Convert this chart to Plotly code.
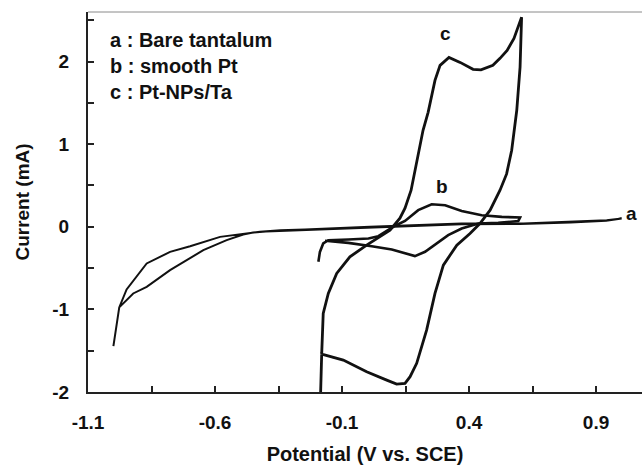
import plotly.graph_objects as go

# ---- data ----
# curve a : Bare tantalum
a_v = [-1.000, -0.977, -0.948, -0.935, -0.869, -0.777, -0.698, -0.580, -0.515, -0.423, -0.343,
       -0.246, 0.010, 0.371, 0.614, 0.811, 0.942, 1.001,
       0.940, 0.800, 0.600, 0.370, 0.000, -0.250, -0.400, -0.450, -0.489, -0.554, -0.646,
       -0.777, -0.869, -0.922, -0.977]
a_i = [-1.444, -0.976, -0.758, -0.706, -0.444, -0.304, -0.235, -0.122, -0.093, -0.061, -0.041,
       -0.033, 0.000, 0.040, 0.040, 0.059, 0.080, 0.100,
       0.072, 0.052, 0.034, 0.030, -0.008, -0.038, -0.058, -0.070, -0.093, -0.162, -0.283,
       -0.525, -0.727, -0.807, -0.976]

# curve b : smooth Pt
b_v = [-0.193, -0.187, -0.174, -0.154, -0.075, 0.004, 0.043, 0.069, 0.109, 0.148, 0.200,
       0.253, 0.306, 0.371, 0.450, 0.529, 0.601,
       0.594, 0.515, 0.437, 0.371, 0.318, 0.266, 0.227, 0.187, 0.148, 0.096, 0.017,
       -0.075, -0.167]
b_i = [-0.424, -0.304, -0.202, -0.162, -0.154, -0.141, -0.114, -0.062, 0.013, 0.071, 0.201,
       0.273, 0.261, 0.192, 0.140, 0.120, 0.112,
       0.071, 0.047, 0.040, -0.021, -0.102, -0.222, -0.303, -0.355, -0.323, -0.274, -0.235,
       -0.195, -0.170]

# curve c : Pt-NPs/Ta
c_v = [-0.180, -0.174, -0.154, -0.121, -0.095, -0.069, -0.003, 0.050, 0.089, 0.128, 0.148,
       0.172, 0.195, 0.219, 0.239, 0.254, 0.266, 0.286, 0.321, 0.365, 0.416, 0.447, 0.494,
       0.522, 0.550, 0.577, 0.607,
       0.601, 0.593, 0.588, 0.568, 0.548, 0.522, 0.483, 0.443, 0.404, 0.352, 0.299, 0.266,
       0.233, 0.194, 0.168, 0.148, 0.115, 0.076, -0.003, -0.095, -0.167, -0.180, -0.185]
c_i = [-1.541, -1.048, -0.807, -0.565, -0.464, -0.364, -0.222, -0.122, -0.041, 0.104, 0.225,
       0.443, 0.805, 1.168, 1.386, 1.591, 1.772, 1.954, 2.051, 1.990, 1.906, 1.900, 1.954,
       2.039, 2.135, 2.281, 2.538,
       1.933, 1.652, 1.410, 0.926, 0.640, 0.443, 0.201, 0.040, -0.081, -0.222, -0.464, -0.807,
       -1.251, -1.653, -1.815, -1.895, -1.904, -1.856, -1.756, -1.614, -1.553, -1.541, -2.097]

x_tickvals = [-1.1, -0.6, -0.1, 0.4, 0.9]
x_ticktext = ["-1.1", "-0.6", "-0.1", "0.4", "0.9"]
y_tickvals = [-2, -1, 0, 1, 2]
y_ticktext = ["-2", "-1", "0", "1", "2"]

legend_lines = ["a : Bare tantalum", "b : smooth Pt", "c : Pt-NPs/Ta"]
curve_labels = [("a", 1.041, 0.161), ("b", 0.293, 0.482), ("c", 0.306, 2.337)]

FONT = "Liberation Sans, Arial, Helvetica, sans-serif"
INK = "#111111"

fig = go.Figure()
for v, i, w in [(a_v, a_i, 2.0), (b_v, b_i, 2.6), (c_v, c_i, 2.8)]:
    fig.add_trace(go.Scatter(x=v, y=i, mode="lines",
                             line=dict(color=INK, width=w),
                             showlegend=False, hoverinfo="skip"))

axis_common = dict(showgrid=False, zeroline=False, showline=True, linecolor="#222222",
                   linewidth=2, ticks="inside", ticklen=6, tickwidth=1.5, tickcolor="#222222",
                   automargin=False,
                   tickfont=dict(family=FONT, size=19, color=INK, weight="bold"))

fig.update_xaxes(range=[-1.1, 1.081], tickmode="array", tickvals=x_tickvals, ticktext=x_ticktext,
                 ticklabelstandoff=12,
                 minor=dict(tick0=-1.1, dtick=0.25, ticks="inside", ticklen=6, tickwidth=1.5,
                            tickcolor="#222222", showgrid=False),
                 title=dict(text="Potential (V vs. SCE)", standoff=18,
                            font=dict(family=FONT, size=20, color=INK, weight="bold")),
                 **axis_common)
fig.update_yaxes(range=[-2, 2.6], tickmode="array", tickvals=y_tickvals, ticktext=y_ticktext,
                 ticklabelstandoff=13,
                 minor=dict(tick0=-2, dtick=0.5, ticks="inside", ticklen=6, tickwidth=1.5,
                            tickcolor="#222222", showgrid=False),
                 title=dict(text="Current (mA)", standoff=18,
                            font=dict(family=FONT, size=19, color=INK, weight="bold")),
                 **axis_common)

# thin grey top frame line
fig.add_shape(type="line", xref="paper", yref="paper", x0=0, x1=1, y0=1, y1=1,
              line=dict(color="#8a8a8a", width=1))

# legend text block
for k, txt in enumerate(legend_lines):
    fig.add_annotation(text=txt, xref="paper", yref="paper", x=0.036, y=0.925 - k * 0.068,
                       xanchor="left", yanchor="middle", showarrow=False,
                       font=dict(family=FONT, size=20, color=INK, weight="bold"))

# curve labels
for txt, xv, yv in curve_labels:
    fig.add_annotation(text=txt, x=xv, y=yv, xanchor="center", yanchor="middle",
                       showarrow=False,
                       font=dict(family=FONT, size=19, color=INK, weight="bold"))

fig.update_layout(width=642, height=465, margin=dict(l=88, r=0, t=12, b=73),
                  paper_bgcolor="white", plot_bgcolor="white",
                  font=dict(family=FONT, color=INK))

# remove the default page margin so the 642x465 figure fills the window exactly
fig.write_html("out.html", config={"displayModeBar": False},
               post_script="document.body.style.margin='0';document.body.style.overflow='hidden';")
